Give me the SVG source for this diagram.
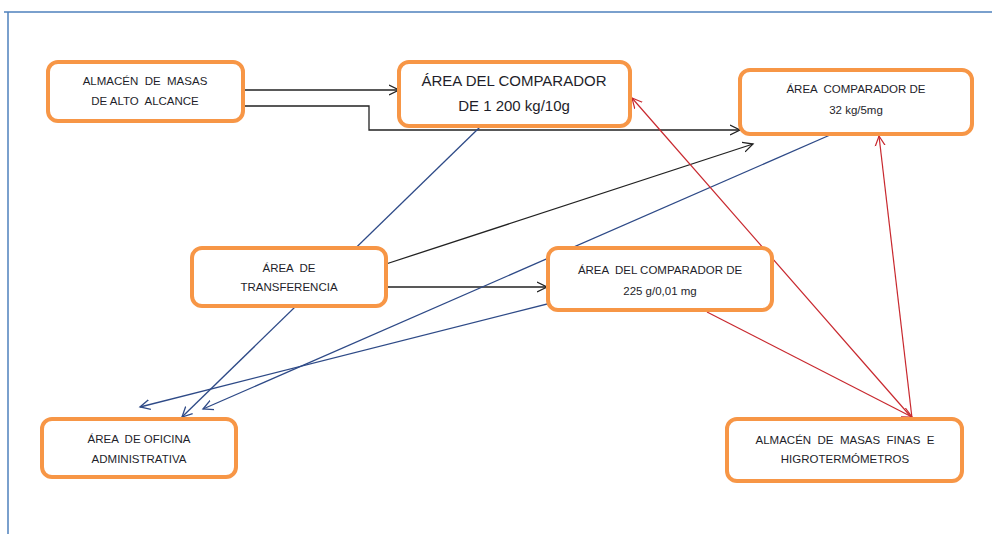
<svg xmlns="http://www.w3.org/2000/svg" width="992" height="534" viewBox="0 0 992 534">
<defs>
<style>
.box{fill:#fff;stroke:#F79646;stroke-width:4}
.t{font-family:"Liberation Sans",Arial,sans-serif;fill:#1e1e2a;text-anchor:middle;white-space:pre}
.s{font-size:11.5px}
.l{font-size:15px}
.k{fill:none;stroke:#222;stroke-width:1.3}
.b{fill:none;stroke:#2E4A87;stroke-width:1.3}
.r{fill:none;stroke:#C8282E;stroke-width:1.2}
</style>
<marker id="ak" markerWidth="12" markerHeight="12" refX="10" refY="5" orient="auto" markerUnits="userSpaceOnUse" viewBox="0 0 12 10"><path d="M0,0 L10,5 L0,10" fill="none" stroke="#222" stroke-width="1.3"/></marker>
<marker id="ab" markerWidth="12" markerHeight="12" refX="10" refY="5" orient="auto" markerUnits="userSpaceOnUse" viewBox="0 0 12 10"><path d="M0,0 L10,5 L0,10" fill="none" stroke="#2E4A87" stroke-width="1.3"/></marker>
<marker id="ar" markerWidth="12" markerHeight="12" refX="10" refY="5" orient="auto" markerUnits="userSpaceOnUse" viewBox="0 0 12 10"><path d="M0,0 L10,5 L0,10" fill="none" stroke="#C8282E" stroke-width="1.2"/></marker>
</defs>
<rect width="992" height="534" fill="#fff"/>
<path d="M4,12 H992 M8,12 V534" fill="none" stroke="#4F81BD" stroke-width="1.5"/>
<g id="connectors">
<path class="k" d="M243,90 H399" marker-end="url(#ak)"/>
<path class="k" d="M243,106 H369 V130 H740" marker-end="url(#ak)"/>
<path class="k" d="M386,264 L753,144" marker-end="url(#ak)"/>
<path class="k" d="M386,287 H547" marker-end="url(#ak)"/>
<path class="b" d="M480,127 L182,417" marker-end="url(#ab)"/>
<path class="b" d="M830,135 L203,409" marker-end="url(#ab)"/>
<path class="b" d="M567,299 L140,407" marker-end="url(#ab)"/>
<path class="r" d="M912,418 L632,98" marker-end="url(#ar)"/>
<path class="r" d="M912,418 L879,136" marker-end="url(#ar)"/>
<path class="r" d="M707,312 L912,417" marker-end="url(#ar)"/>
</g>
<g id="almacen-alto-alcance">
<rect class="box" x="48" y="62" width="195" height="59" rx="10"/>
<text class="t s" x="145" y="85">ALMACÉN  DE  MASAS</text>
<text class="t s" x="145" y="105">DE ALTO  ALCANCE</text>
</g>
<g id="comparador-1200kg">
<rect class="box" x="399" y="62" width="231" height="64" rx="10"/>
<text class="t l" x="514" y="86">ÁREA DEL COMPARADOR</text>
<text class="t l" x="514" y="111">DE 1 200 kg/10g</text>
</g>
<g id="comparador-32kg">
<rect class="box" x="740" y="70" width="232" height="64" rx="10"/>
<text class="t s" x="856" y="93">ÁREA  COMPARADOR DE</text>
<text class="t s" x="856" y="114">32 kg/5mg</text>
</g>
<g id="transferencia">
<rect class="box" x="192" y="248" width="194" height="58" rx="10"/>
<text class="t s" x="289" y="272">ÁREA  DE</text>
<text class="t s" x="289" y="291">TRANSFERENCIA</text>
</g>
<g id="comparador-225g">
<rect class="box" x="548" y="248" width="224" height="62" rx="10"/>
<text class="t s" x="660" y="274">ÁREA  DEL COMPARADOR DE</text>
<text class="t s" x="660" y="295">225 g/0,01 mg</text>
</g>
<g id="oficina-administrativa">
<rect class="box" x="42" y="419" width="194" height="58" rx="10"/>
<text class="t s" x="139" y="443">ÁREA  DE OFICINA</text>
<text class="t s" x="139" y="463">ADMINISTRATIVA</text>
</g>
<g id="almacen-masas-finas">
<rect class="box" x="727" y="419" width="235" height="62" rx="10"/>
<text class="t s" x="845" y="444">ALMACÉN  DE  MASAS  FINAS  E</text>
<text class="t s" x="845" y="463">HIGROTERMÓMETROS</text>
</g>
</svg>
